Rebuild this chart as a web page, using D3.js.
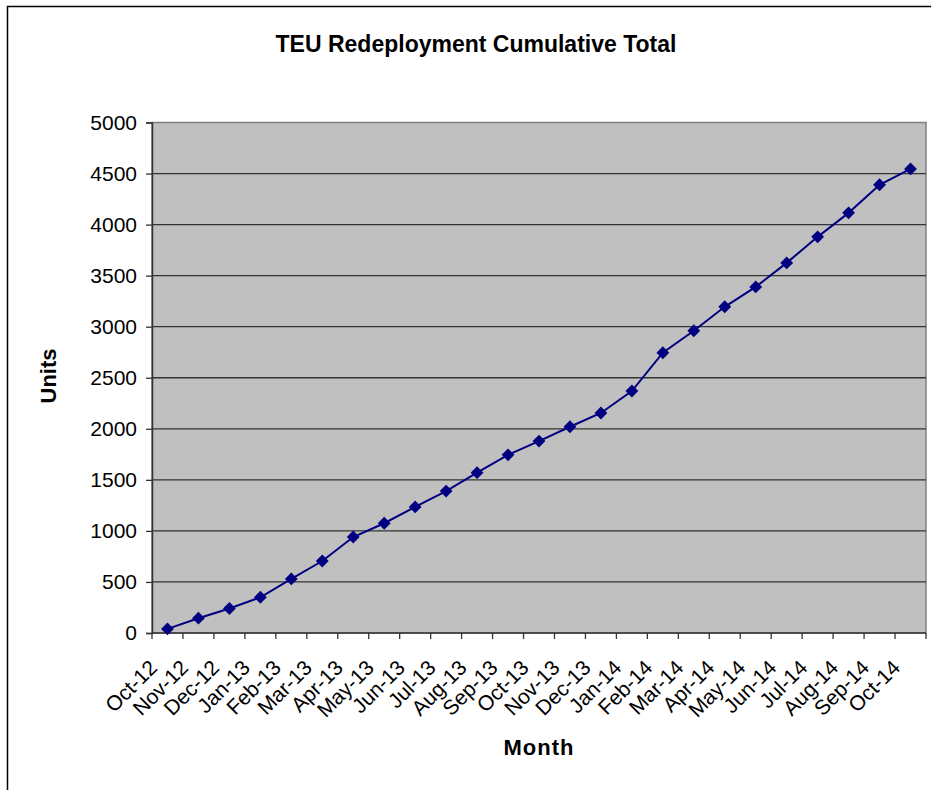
<!DOCTYPE html>
<html>
<head>
<meta charset="UTF-8">
<title>TEU Redeployment Cumulative Total</title>
<script src="https://cdn.jsdelivr.net/npm/d3@7"></script>
<style>
  body { margin: 0; background: #fff; }
  svg { display: block; font-family: "Liberation Sans", Arial, sans-serif; }
</style>
</head>
<body>
<svg id="chart" width="931" height="790"></svg>
<script>
// chart data
var months = ["Oct-12","Nov-12","Dec-12","Jan-13","Feb-13","Mar-13","Apr-13","May-13",
  "Jun-13","Jul-13","Aug-13","Sep-13","Oct-13","Nov-13","Dec-13","Jan-14","Feb-14",
  "Mar-14","Apr-14","May-14","Jun-14","Jul-14","Aug-14","Sep-14","Oct-14"];
var units = [40, 145, 240, 350, 530, 705, 940, 1075, 1235, 1390, 1570, 1745, 1880,
  2020, 2155, 2370, 2745, 2960, 3195, 3390, 3625, 3880, 4115, 4390, 4545];
var yTicks = [0, 500, 1000, 1500, 2000, 2500, 3000, 3500, 4000, 4500, 5000];

var svg = d3.select("#chart");
var plot = { left: 152, top: 122.5, right: 926, bottom: 633 };

// outer chart border (runs off the right/bottom of the picture)
svg.append("rect")
  .attr("x", 7.5).attr("y", 6.5)
  .attr("width", 940).attr("height", 800)
  .attr("fill", "#fff").attr("stroke", "#000").attr("stroke-width", 1.5);

var x = d3.scaleBand().domain(months).range([plot.left, plot.right]);
var y = d3.scaleLinear().domain([0, 5000]).range([plot.bottom, plot.top]);

// plot area
svg.append("rect")
  .attr("x", plot.left).attr("y", plot.top)
  .attr("width", plot.right - plot.left).attr("height", plot.bottom - plot.top)
  .attr("fill", "#c0c0c0").attr("stroke", "#808080").attr("stroke-width", 1.5);

// gridlines
svg.append("g").selectAll("line")
  .data(yTicks.filter(function(d) { return d > 0 && d < 5000; }))
  .enter().append("line")
  .attr("x1", plot.left).attr("x2", plot.right)
  .attr("y1", function(d) { return y(d); }).attr("y2", function(d) { return y(d); })
  .attr("stroke", "#333").attr("stroke-width", 1.3);

// y axis
var yAxis = svg.append("g")
  .attr("transform", "translate(" + plot.left + ",0)")
  .call(d3.axisLeft(y).tickValues(yTicks).tickSize(6).tickPadding(9).tickFormat(d3.format("d")));
yAxis.select(".domain").attr("stroke", "#333").attr("stroke-width", 1.5);
yAxis.selectAll(".tick line").attr("stroke", "#333").attr("stroke-width", 1.3);
yAxis.selectAll("text").attr("font-size", 21).attr("fill", "#000")
  .attr("font-family", "Liberation Sans, Arial, sans-serif");

// x axis: ticks between categories, like the original
var xAxis = svg.append("g")
  .attr("transform", "translate(0," + plot.bottom + ")");
xAxis.append("line")
  .attr("x1", plot.left).attr("x2", plot.right)
  .attr("stroke", "#333").attr("stroke-width", 1.5);
xAxis.selectAll(".tk")
  .data(months.concat(["end"]))
  .enter().append("line")
  .attr("x1", function(d, i) { return plot.left + i * x.step(); })
  .attr("x2", function(d, i) { return plot.left + i * x.step(); })
  .attr("y1", 0).attr("y2", 6)
  .attr("stroke", "#333").attr("stroke-width", 1.3);
xAxis.selectAll("text")
  .data(months)
  .enter().append("text")
  .attr("transform", function(d) {
    return "translate(" + (x(d) + x.bandwidth() / 2 - 9) + ",36) rotate(-45)";
  })
  .attr("text-anchor", "end")
  .attr("font-size", 21)
  .attr("fill", "#000")
  .text(function(d) { return d; });

// line + markers
var line = d3.line()
  .x(function(d, i) { return x(months[i]) + x.bandwidth() / 2; })
  .y(function(d) { return y(d); });

svg.append("path")
  .datum(units)
  .attr("d", line)
  .attr("fill", "none").attr("stroke", "#000080").attr("stroke-width", 2);

svg.append("g").selectAll("path")
  .data(units)
  .enter().append("path")
  .attr("d", d3.symbol().type(d3.symbolDiamond2).size(105))
  .attr("transform", function(d, i) {
    return "translate(" + (x(months[i]) + x.bandwidth() / 2) + "," + y(d) + ")";
  })
  .attr("fill", "#000080");

// titles
svg.append("text")
  .attr("x", 476).attr("y", 52)
  .attr("text-anchor", "middle")
  .attr("font-size", 23).attr("font-weight", "bold")
  .text("TEU Redeployment Cumulative Total");

svg.append("text")
  .attr("x", 539).attr("y", 755)
  .attr("text-anchor", "middle")
  .attr("font-size", 22).attr("font-weight", "bold")
  .attr("letter-spacing", 1)
  .text("Month");

svg.append("text")
  .attr("transform", "translate(56,376) rotate(-90)")
  .attr("text-anchor", "middle")
  .attr("font-size", 22).attr("font-weight", "bold")
  .text("Units");
</script>
</body>
</html>
